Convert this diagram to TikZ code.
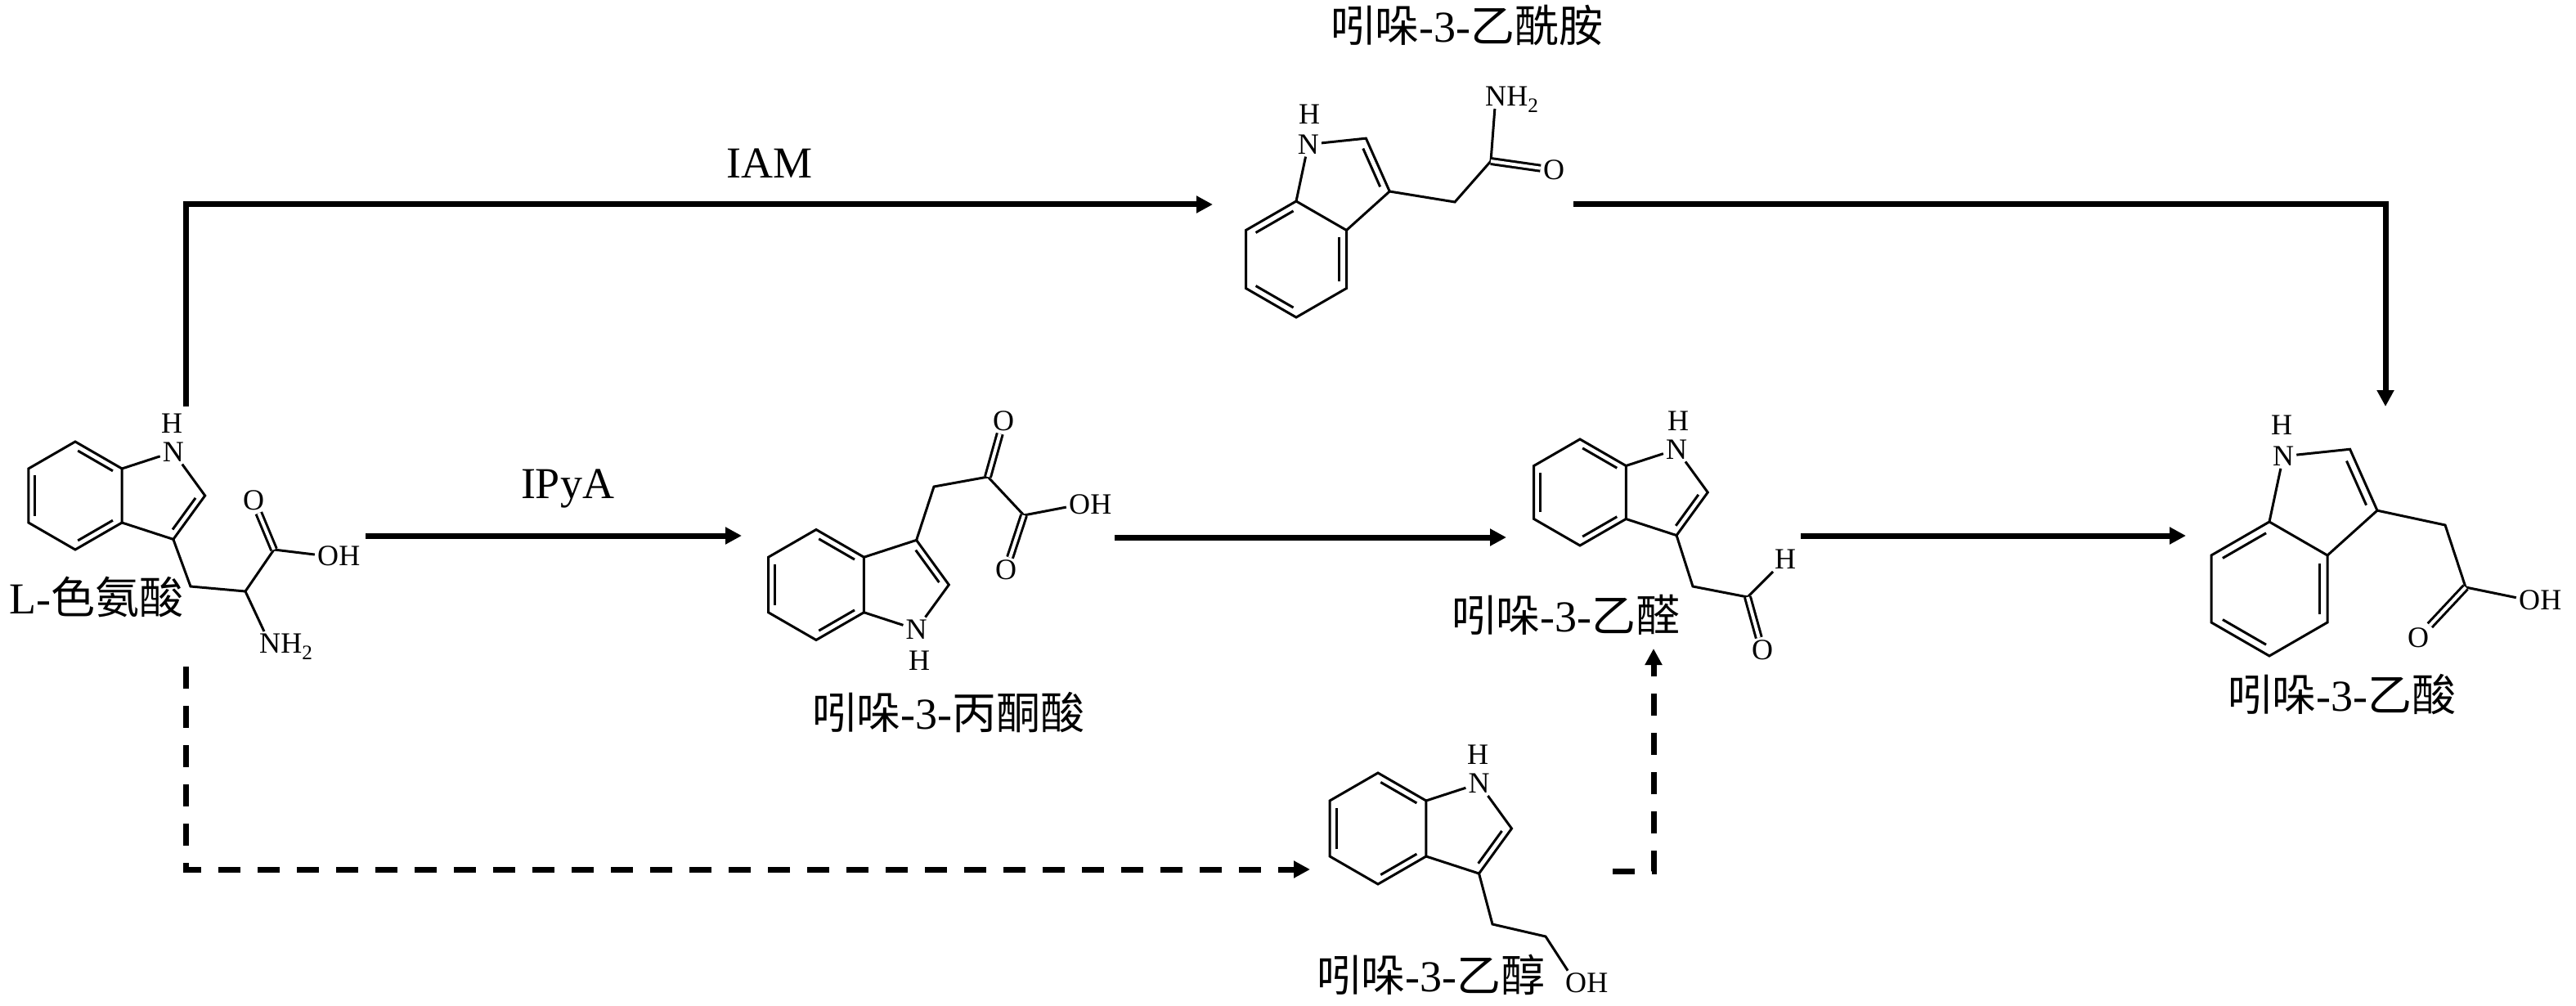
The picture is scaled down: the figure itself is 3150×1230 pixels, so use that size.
\documentclass[tikz,border=0pt]{standalone}
\usepackage{fontspec}
\setmainfont{Liberation Serif}
\newfontfamily\cjk{Noto Sans CJK SC}
\usetikzlibrary{calc,arrows.meta}

\tikzset{
  bond/.style={line width=3pt},
  dbond/.style={line width=3pt, double, double distance=4pt},
  atom/.style={inner sep=3pt, font=\fontsize{36pt}{40pt}\selectfont},
  atomH/.style={inner sep=0pt, font=\fontsize{36pt}{40pt}\selectfont},
  arr/.style={line width=7pt, -{Triangle[length=20pt,width=20pt]}},
  darr/.style={line width=7pt, dash pattern=on 27pt off 21pt, -{Triangle[length=20pt,width=20pt]}},
  lbl/.style={inner sep=0pt, font=\fontsize{54pt}{60pt}\selectfont}
}

\newcommand{\innerb}[4]{%
  \coordinate (ib1) at ($(#1)!#4!(#3)$);
  \coordinate (ib2) at ($(#2)!#4!(#3)$);
  \draw[bond] ($(ib1)!0.065!(ib2)$) -- ($(ib2)!0.065!(ib1)$);
}

% prefix, cx, cy, r, phi, s
\newcommand{\indole}[6]{%
  \coordinate (#1-o) at (#2,#3);
  \foreach \nm/\a in {c7/-90,c7a/-30,c3a/30,c4/90,c5/150,c6/210}{%
    \pgfmathsetmacro{\ang}{#5+(#6)*(\a)}%
    \coordinate (#1-\nm) at ($(#1-o)+(\ang:#4)$);
  }%
  \pgfmathsetmacro{\ang}{#5}%
  \pgfmathsetmacro{\dd}{1.5538*#4}%
  \coordinate (#1-p) at ($(#1-o)+(\ang:\dd)$);
  \pgfmathsetmacro{\rr}{0.85065*#4}%
  \foreach \nm/\a in {c2/0,c3/72}{%
    \pgfmathsetmacro{\ang}{#5+(#6)*(\a)}%
    \coordinate (#1-\nm) at ($(#1-p)+(\ang:\rr)$);
  }%
  \pgfmathsetmacro{\ang}{#5+(#6)*288}%
  \node[atom] (#1-n) at ($(#1-p)+(\ang:\rr)$) {N};
  \draw[bond] (#1-c7)--(#1-c7a)--(#1-c3a)--(#1-c4)--(#1-c5)--(#1-c6)--cycle;
  \draw[bond] (#1-c7a)--(#1-n)--(#1-c2)--(#1-c3)--(#1-c3a);
  \innerb{#1-c7}{#1-c7a}{#1-o}{0.14}
  \innerb{#1-c3a}{#1-c4}{#1-o}{0.14}
  \innerb{#1-c5}{#1-c6}{#1-o}{0.14}
  \innerb{#1-c2}{#1-c3}{#1-p}{0.17}
}

\begin{document}
\begin{tikzpicture}[x=1pt,y=-1pt]
\useasboundingbox (0,0) rectangle (3150,1230);
\fill[white] (0,0) rectangle (3150,1230);

% ---------- L-tryptophan ----------
\indole{t}{92}{606}{66}{0}{1}
\node[atomH] (t-h) at (210,518) {H};
\coordinate (t-b) at (233,717);
\coordinate (t-a) at (300,723);
\coordinate (t-k) at (335,672);
\node[atom] (t-o1) at (310,612) {O};
\node[atom] (t-o2) at (401,680) {O};
\node[atomH, anchor=base west, xshift=-3pt] (t-o2h) at (t-o2.base east) {H};
\node[atom] (t-n2) at (330,787) {N};
\node[atomH, anchor=base west, xshift=-3pt] (t-n2h) at (t-n2.base east) {H\textsubscript{2}};
\draw[bond] (t-c3)--(t-b)--(t-a)--(t-k)--(t-o2);
\draw[bond] (t-a)--(t-n2);
\draw[dbond] (t-k)--(t-o1);
\node[lbl] (t-name) at (118,730) {L-{\cjk 色氨酸}};

% ---------- indole-3-acetamide ----------
\indole{m}{1585}{317}{71}{-60}{1}
\node[atomH] (m-h) at (1601,140) {H};
\coordinate (m-b) at (1779,247);
\coordinate (m-k) at (1823,197);
\node[atom] (m-n2) at (1829,118) {N};
\node[atomH, anchor=base west, xshift=-3pt] (m-n2h) at (m-n2.base east) {H\textsubscript{2}};
\node[atom] (m-o) at (1900,208) {O};
\draw[bond] (m-c3)--(m-b)--(m-k)--(m-n2);
\draw[dbond] (m-k)--(m-o);
\node[lbl] (m-name) at (1794,31) {{\cjk 吲哚}-3-{\cjk 乙酰胺}};

% ---------- indole-3-pyruvic acid ----------
\indole{p}{998}{715}{67.5}{0}{-1}
\node[atomH] (p-h) at (1124,808) {H};
\coordinate (p-b) at (1142,595);
\coordinate (p-k) at (1208,583);
\coordinate (p-d) at (1252,630);
\node[atom] (p-o1) at (1227,515) {O};
\node[atom] (p-o2) at (1320,617) {O};
\node[atomH, anchor=base west, xshift=-3pt] (p-o2h) at (p-o2.base east) {H};
\node[atom] (p-o3) at (1230,697) {O};
\draw[bond] (p-c3)--(p-b)--(p-k)--(p-d)--(p-o2);
\draw[dbond] (p-k)--(p-o1);
\draw[dbond] (p-d)--(p-o3);
\node[lbl] (p-name) at (1160,871) {{\cjk 吲哚}-3-{\cjk 丙酮酸}};

% ---------- indole-3-acetaldehyde ----------
\indole{a}{1932}{602}{65}{0}{1}
\node[atomH] (a-h) at (2052,515) {H};
\coordinate (a-b) at (2070,717);
\coordinate (a-k) at (2137,730);
\node[atom] (a-h2) at (2183,684) {H};
\node[atom] (a-o) at (2155,795) {O};
\draw[bond] (a-c3)--(a-b)--(a-k)--(a-h2);
\draw[dbond] (a-k)--(a-o);
\node[lbl] (a-name) at (1915,752) {{\cjk 吲哚}-3-{\cjk 乙醛}};

% ---------- indole-3-acetic acid ----------
\indole{c}{2775}{720}{82}{-60}{1}
\node[atomH] (c-h) at (2790,520) {H};
\coordinate (c-b) at (2990,642);
\coordinate (c-k) at (3015,718);
\node[atom] (c-o2) at (3093,734) {O};
\node[atomH, anchor=base west, xshift=-3pt] (c-o2h) at (c-o2.base east) {H};
\node[atom] (c-o1) at (2957,780) {O};
\draw[bond] (c-c3)--(c-b)--(c-k)--(c-o2);
\draw[dbond] (c-k)--(c-o1);
\node[lbl] (c-name) at (2864,849) {{\cjk 吲哚}-3-{\cjk 乙酸}};

% ---------- indole-3-ethanol ----------
\indole{e}{1685}{1013}{68}{0}{1}
\node[atomH] (e-h) at (1807,923) {H};
\coordinate (e-b) at (1825,1130);
\coordinate (e-k) at (1890,1145);
\node[atom] (e-o) at (1927,1202) {O};
\node[atomH, anchor=base west, xshift=-3pt] (e-oh) at (e-o.base east) {H};
\draw[bond] (e-c3)--(e-b)--(e-k)--(e-o);
\node[lbl] (e-name) at (1750,1192) {{\cjk 吲哚}-3-{\cjk 乙醇}};

% ---------- pathway labels ----------
\node[lbl] (iam) at (941,200) {IAM};
\node[lbl] (ipya) at (694,597) {IPyA};

% ---------- arrows ----------
\coordinate (s1) at (227,497);
\coordinate (k1) at (227,250);
\coordinate (e1) at (1483,250);
\draw[arr] (s1)--(k1)--(e1);

\coordinate (s2) at (1924,250);
\coordinate (k2) at (2917,250);
\coordinate (e2) at (2917,497);
\draw[arr] (s2)--(k2)--(e2);

\coordinate (s3) at (447,655);
\coordinate (e3) at (907,655);
\draw[arr] (s3)--(e3);

\coordinate (s4) at (1363,657);
\coordinate (e4) at (1842,657);
\draw[arr] (s4)--(e4);

\coordinate (s5) at (2202,655);
\coordinate (e5) at (2673,655);
\draw[arr] (s5)--(e5);

\coordinate (s6) at (227,815);
\coordinate (k6) at (227,1063);
\coordinate (e6) at (1602,1063);
\draw[darr] (s6)--(k6)--(e6);

\coordinate (s7) at (1972,1065);
\coordinate (k7) at (2022,1065);
\coordinate (e7) at (2022,793);
\draw[darr] (s7)--(k7)--(e7);
\end{tikzpicture}
\end{document}
